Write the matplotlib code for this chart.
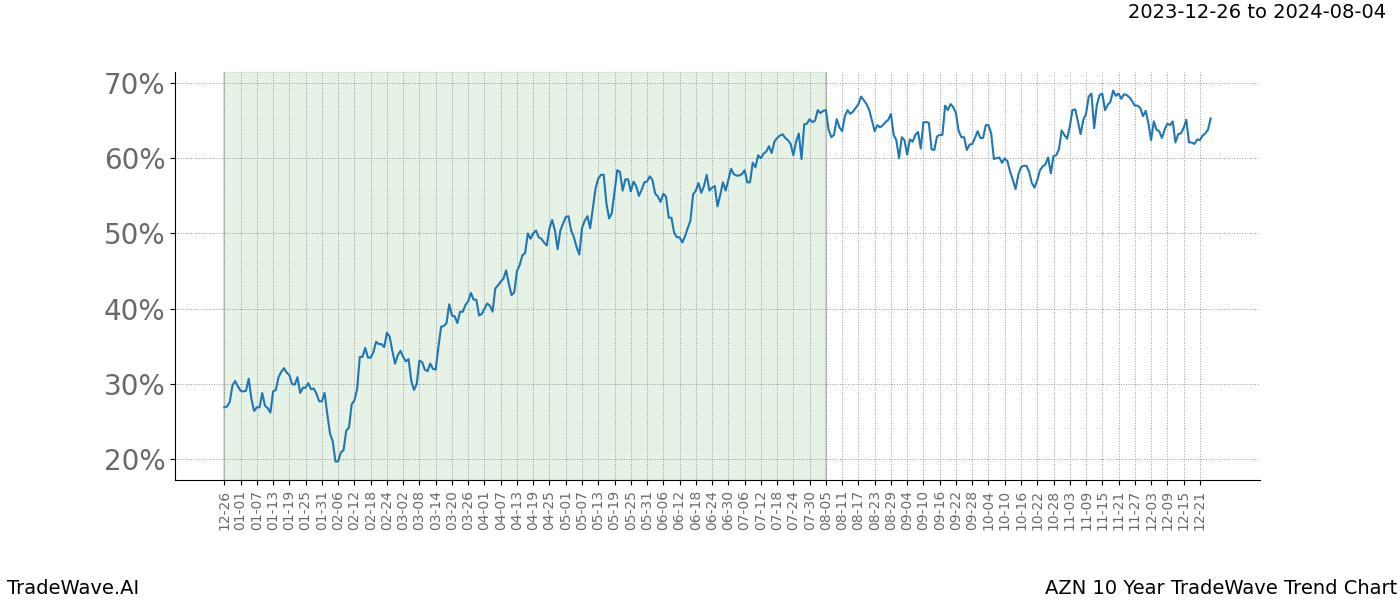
import matplotlib
matplotlib.use("Agg")
import matplotlib.pyplot as plt
import numpy as np

# trend values in percent, one per day starting 2023-12-26
values = [
    26.9, 27.0, 27.6, 29.8, 30.4, 29.7, 29.1, 29.0, 29.1, 30.7,
    28.0, 26.4, 26.9, 26.9, 28.8, 27.1, 26.8, 26.2, 29.0, 29.2,
    30.9, 31.6, 32.1, 31.5, 31.2, 30.0, 29.9, 30.9, 28.8, 29.5,
    29.5, 30.1, 29.3, 29.4, 28.7, 27.7, 27.7, 28.8, 26.0, 23.4,
    22.4, 19.7, 19.7, 20.9, 21.2, 23.8, 24.2, 27.3, 27.8, 29.3,
    33.6, 33.6, 34.8, 33.5, 33.5, 34.2, 35.6, 35.3, 35.3, 34.9,
    36.8, 36.3, 34.4, 32.7, 33.8, 34.4, 33.6,
    33.0, 33.3, 30.4, 29.2, 30.0, 33.1, 32.9, 31.9, 31.7, 32.7,
    32.0, 31.9, 34.9, 37.6, 37.7, 38.1, 40.6, 39.1, 39.0, 38.1,
    39.6, 39.6, 40.5, 41.0, 42.1, 41.2, 41.2, 39.1, 39.3, 40.0,
    40.7, 40.4, 39.6, 42.7, 43.1, 43.6, 44.0, 45.1, 43.3, 41.8,
    42.2, 45.0, 45.8, 47.1, 47.4, 50.0, 49.3, 50.0, 50.4, 49.5,
    49.3, 48.8, 48.4, 50.7, 51.8, 50.4, 47.9, 50.4, 51.3, 52.2,
    52.3, 50.4, 49.5, 48.2, 47.2, 50.7,
    51.7, 52.3, 50.7, 53.3, 56.0, 57.3, 57.8, 57.8, 54.0, 52.0,
    52.7, 55.6, 58.4, 58.2, 55.7, 57.2, 57.2, 55.6, 56.9, 56.3,
    55.0, 55.8, 56.8, 56.9, 57.6, 57.1, 55.3, 54.9, 54.2, 55.3,
    54.9, 52.1, 52.1, 50.1, 49.5, 49.5, 48.8, 49.6, 50.7, 51.7,
    55.2, 55.7, 56.7, 55.4, 56.3, 57.8, 55.7, 56.1, 56.3, 53.6,
    55.1, 56.8, 55.7, 57.1, 58.6, 57.9, 57.7, 57.7, 57.9, 58.4,
    56.8, 56.8, 59.4, 58.8, 60.4, 60.0, 60.6,
    60.9, 61.6, 60.7, 62.2, 62.7, 63.0, 63.2, 62.7, 62.4, 61.9,
    60.4, 62.2, 63.3, 59.9, 64.5, 64.6, 65.2, 64.8, 65.0, 66.4,
    66.0, 66.3, 66.4, 63.8, 62.8, 63.1, 65.2, 64.1, 63.6, 65.6,
    66.4, 65.9, 66.2, 66.7, 67.2, 68.2, 67.7, 67.2, 66.4, 65.0,
    63.6, 64.4, 64.1, 64.4, 64.8, 65.1, 65.9, 63.1, 62.4, 60.0,
    62.8, 62.4, 60.5, 62.5, 62.2, 63.1, 63.5, 61.3, 64.8, 64.8,
    64.7, 61.2, 61.1, 62.9, 63.1, 63.1, 67.0,
    66.4, 67.2, 66.8, 66.0, 63.6, 62.8, 62.8, 61.1, 61.8, 61.9,
    62.7, 63.6, 62.7, 62.7, 64.4, 64.4, 63.3, 59.9, 60.0, 60.1,
    59.4, 60.0, 59.6, 58.2, 57.1, 55.9, 57.8, 58.8, 59.0, 59.0,
    58.2, 56.7, 56.1, 57.1, 58.4, 58.9, 59.2, 60.1, 58.0, 60.3,
    60.4, 61.2, 63.7, 63.1, 62.6, 64.2, 66.4, 66.5, 64.9, 63.2,
    65.1, 65.9, 68.2, 68.6, 64.0, 67.1, 68.4, 68.6, 66.4, 67.1,
    67.5, 69.0, 68.3, 68.6, 67.9, 68.5,
    68.4, 68.1, 67.6, 67.0, 67.0, 66.7, 65.6, 66.3, 64.7, 62.4,
    64.9, 63.8, 63.6, 62.7, 63.8, 64.6, 64.4, 64.9, 62.1, 63.2,
    63.3, 64.0, 65.1, 62.1, 62.1, 61.9, 62.5, 62.4, 63.0, 63.3,
    63.8, 65.3,
]

tick_labels = [
    "12-26", "01-01", "01-07", "01-13", "01-19", "01-25", "01-31", "02-06",
    "02-12", "02-18", "02-24", "03-02", "03-08", "03-14", "03-20", "03-26",
    "04-01", "04-07", "04-13", "04-19", "04-25", "05-01", "05-07", "05-13",
    "05-19", "05-25", "05-31", "06-06", "06-12", "06-18", "06-24", "06-30",
    "07-06", "07-12", "07-18", "07-24", "07-30", "08-05", "08-11", "08-17",
    "08-23", "08-29", "09-04", "09-10", "09-16", "09-22", "09-28", "10-04",
    "10-10", "10-16", "10-22", "10-28", "11-03", "11-09", "11-15", "11-21",
    "11-27", "12-03", "12-09", "12-15", "12-21",
]
tick_step = 6          # days between labelled ticks
shade_end_day = 222    # 08-05
y_ticks = [20, 30, 40, 50, 60, 70]

title = "2023-12-26 to 2024-08-04"
left_note = "TradeWave.AI"
right_note = "AZN 10 Year TradeWave Trend Chart"

fig = plt.figure(figsize=(14, 6), dpi=100)
ax = fig.add_axes([0.125, 0.2, 0.775, 0.68])

days = np.arange(len(values))
ax.axvspan(0, shade_end_day, color="green", alpha=0.1, zorder=0)
ax.axvline(0, color="grey", alpha=0.25, lw=1.5, zorder=0)
ax.axvline(shade_end_day, color="grey", alpha=0.25, lw=1.5, zorder=0)
ax.plot(days, values, color="#1f77b4", lw=1.5, zorder=3)

ax.set_xticks(np.arange(len(tick_labels)) * tick_step)
ax.set_xticklabels(tick_labels, rotation=90, fontsize=10, color="dimgray")
ax.set_yticks(y_ticks)
ax.set_yticklabels([f"{v}%" for v in y_ticks], fontsize=20, color="dimgray")

ax.grid(True, linestyle=":", color="grey", lw=0.7, alpha=0.8)
ax.spines["top"].set_visible(False)
ax.spines["right"].set_visible(False)

fig.text(0.99, 0.98, title, ha="right", va="center", fontsize=14)
fig.text(0.005, 0.02, left_note, ha="left", va="center", fontsize=14)
fig.text(0.998, 0.02, right_note, ha="right", va="center", fontsize=14)

fig.savefig("out.png")
plt.close(fig)
